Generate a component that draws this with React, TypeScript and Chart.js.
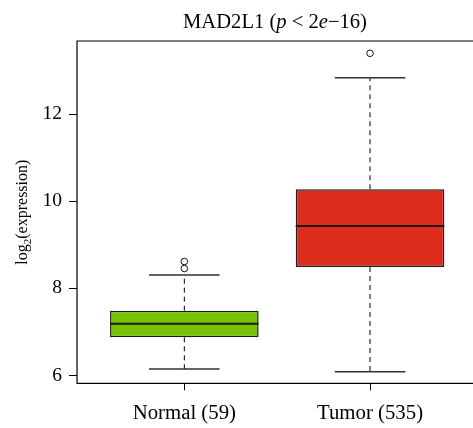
import React, { useEffect, useRef } from "react";
import { Chart, registerables } from "chart.js";

Chart.register(...registerables);

// ---- data ----
const groups = ["Normal (59)", "Tumor (535)"];
const groupPos = [1, 2];
const q1 = [6.877, 8.49];
const median = [7.189, 9.43];
const q3 = [7.487, 10.273];
const whiskerLow = [6.149, 6.087];
const whiskerHigh = [8.306, 12.833];
const outlierGroup = [1, 1, 2];
const outlierValue = [8.455, 8.616, 13.393];
const yTicks = [6, 8, 10, 12];
const boxColors = ["#76C200", "#DD2C1C"];

const FONT = "'Liberation Serif', 'DejaVu Serif', serif";

const boxPlugin = {
  id: "boxExtras",
  beforeDatasetsDraw(chart: any) {
    const { ctx, scales } = chart;
    const x = scales.x;
    const y = scales.y;
    ctx.save();
    for (let i = 0; i < groups.length; i++) {
      const cx = x.getPixelForValue(groupPos[i]);
      ctx.strokeStyle = "#000";
      ctx.lineWidth = 1;
      ctx.setLineDash([5, 4]);
      ctx.beginPath();
      ctx.moveTo(cx, y.getPixelForValue(q3[i]));
      ctx.lineTo(cx, y.getPixelForValue(whiskerHigh[i]));
      ctx.moveTo(cx, y.getPixelForValue(q1[i]));
      ctx.lineTo(cx, y.getPixelForValue(whiskerLow[i]));
      ctx.stroke();
      ctx.setLineDash([]);
      ctx.strokeStyle = "#333";
      ctx.lineWidth = 1.4;
      const half = (x.getPixelForValue(groupPos[i] + 0.19) - x.getPixelForValue(groupPos[i] - 0.19)) / 2;
      ctx.beginPath();
      const yh = y.getPixelForValue(whiskerHigh[i]);
      const yl = y.getPixelForValue(whiskerLow[i]);
      ctx.moveTo(cx - half, yh);
      ctx.lineTo(cx + half, yh);
      ctx.moveTo(cx - half, yl);
      ctx.lineTo(cx + half, yl);
      ctx.stroke();
    }
    ctx.restore();
  },
  afterDatasetsDraw(chart: any) {
    const { ctx, scales, chartArea } = chart;
    const y = scales.y;
    const meta = chart.getDatasetMeta(0);
    ctx.save();
    ctx.strokeStyle = "#1a1a1a";
    ctx.lineWidth = 2;
    meta.data.forEach((bar: any, i: number) => {
      const ym = y.getPixelForValue(median[i]);
      ctx.beginPath();
      ctx.moveTo(bar.x - bar.width / 2, ym);
      ctx.lineTo(bar.x + bar.width / 2, ym);
      ctx.stroke();
    });
    // frame: left, top, bottom (the right edge lies outside the picture)
    ctx.strokeStyle = "#000";
    ctx.lineWidth = 1.2;
    ctx.beginPath();
    ctx.moveTo(chartArea.right + 6, chartArea.top);
    ctx.lineTo(chartArea.left, chartArea.top);
    ctx.lineTo(chartArea.left, chartArea.bottom);
    ctx.lineTo(chartArea.right + 6, chartArea.bottom);
    ctx.stroke();
    ctx.restore();
  },
  afterDraw(chart: any) {
    const { ctx, chartArea } = chart;
    ctx.save();
    ctx.fillStyle = "#000";
    const parts: [string, boolean][] = [
      ["MAD2L1 (", false],
      ["p", true],
      [" < 2", false],
      ["e", true],
      ["\u221216)", false],
    ];
    const size = 20.6;
    let total = 0;
    const widths = parts.map(([t, it]) => {
      ctx.font = `${it ? "italic " : ""}${size}px ${FONT}`;
      const w = ctx.measureText(t).width;
      total += w;
      return w;
    });
    let tx = 275 - total / 2;
    ctx.textBaseline = "alphabetic";
    ctx.textAlign = "left";
    parts.forEach(([t, it], i) => {
      ctx.font = `${it ? "italic " : ""}${size}px ${FONT}`;
      ctx.fillText(t, tx, 28);
      tx += widths[i];
    });
    const ymid = (chartArea.top + chartArea.bottom) / 2;
    ctx.translate(26.5, ymid);
    ctx.rotate(-Math.PI / 2);
    const lp: [string, number, number][] = [
      ["log", 16, 0],
      ["2", 11, 4],
      ["(expression)", 16, 0],
    ];
    let lt = 0;
    const lw = lp.map(([t, s]) => {
      ctx.font = `${s}px ${FONT}`;
      const w = ctx.measureText(t).width;
      lt += w;
      return w;
    });
    let lx = -lt / 2;
    lp.forEach(([t, s, dy], i) => {
      ctx.font = `${s}px ${FONT}`;
      ctx.fillText(t, lx, dy);
      lx += lw[i];
    });
    ctx.restore();
  },
};

export default function App() {
  const ref = useRef<HTMLCanvasElement>(null);
  useEffect(() => {
    if (!ref.current) return;
    const chart = new Chart(ref.current, {
      type: "bar",
      data: {
        datasets: [
          {
            type: "bar",
            data: groupPos.map((p, i) => ({ x: p, y: [q1[i], q3[i]] })) as any,
            backgroundColor: boxColors,
            borderColor: "#1c1c1c",
            borderWidth: 1.5,
            borderSkipped: false,
            categoryPercentage: 1,
            barPercentage: 0.8,
          },
          {
            type: "scatter",
            data: outlierValue.map((v, i) => ({ x: outlierGroup[i], y: v })),
            pointStyle: "circle",
            pointRadius: 3.3,
            borderColor: "#111",
            borderWidth: 1,
            backgroundColor: "rgba(0,0,0,0)",
          } as any,
        ],
      },
      options: {
        animation: false,
        responsive: false,
        events: [],
        layout: { padding: { top: 41, left: 0, right: 0, bottom: 0 } },
        plugins: { legend: { display: false }, tooltip: { enabled: false }, title: { display: false } },
        scales: {
          x: {
            type: "linear",
            min: 0.422,
            max: 2.5276,
            offset: false,
            afterBuildTicks: (s: any) => {
              s.ticks = groupPos.map((v) => ({ value: v }));
            },
            afterFit: (s: any) => {
              s.height = 44.7;
            },
            grid: { display: true, drawOnChartArea: false, drawTicks: true, tickLength: 7, color: "#000", offset: false },
            border: { display: false },
            ticks: {
              color: "#000",
              font: { family: FONT, size: 20.8 },
              padding: 10.5,
              maxRotation: 0,
              autoSkip: false,
              callback: (v: any) => groups[groupPos.indexOf(Number(v))] ?? "",
            },
          },
          y: {
            type: "linear",
            min: 5.821,
            max: 13.675,
            afterBuildTicks: (s: any) => {
              s.ticks = yTicks.map((v) => ({ value: v }));
            },
            afterFit: (s: any) => {
              s.width = 77;
            },
            grid: { display: true, drawOnChartArea: false, drawTicks: true, tickLength: 8, color: "#000" },
            border: { display: false },
            ticks: {
              color: "#000",
              font: { family: FONT, size: 19.5 },
              padding: 7,
              callback: (v: any) => String(v),
            },
          },
        },
      },
      plugins: [boxPlugin],
    });
    return () => chart.destroy();
  }, []);
  return (
    <div style={{ position: "fixed", left: 0, top: 0, width: 473, height: 428, background: "#fff" }}>
      <canvas ref={ref} width={473} height={428} />
    </div>
  );
}
